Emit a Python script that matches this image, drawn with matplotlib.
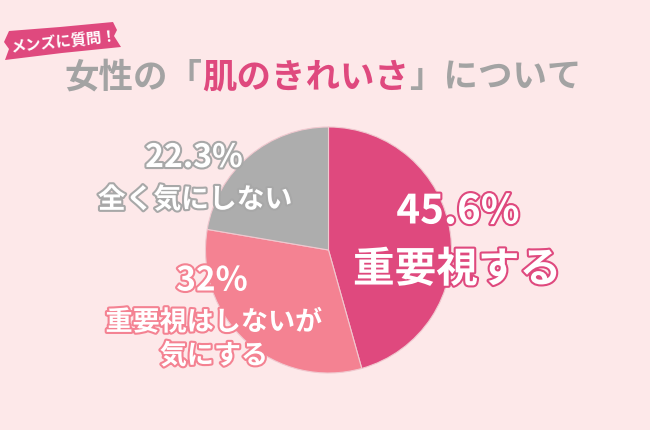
import matplotlib.pyplot as plt
import matplotlib.patheffects as pe
from matplotlib.patches import Polygon

plt.rcParams['font.family'] = ['Noto Sans CJK JP', 'DejaVu Sans']

# data
labels = ['重要視する', '重要視はしないが\n気にする', '全く気にしない']
values = [45.6, 32, 22.3]
pct_text = ['45.6%', '32%', '22.3%']
colors = ['#DF497E', '#F48292', '#ADADAD']

bg = '#FDE8E9'
W, H = 650, 430

fig = plt.figure(figsize=(6.5, 4.3), dpi=100, facecolor=bg)
ax = fig.add_axes([0, 0, 1, 1])
ax.set_facecolor(bg)

# pie (pixel coords, y flipped)
ax.pie(values, colors=colors, startangle=90, counterclock=False,
       center=(328.5, H - 250), radius=123,
       wedgeprops=dict(linewidth=0.8, edgecolor='#f0c8cf'))
ax.set_xlim(0, W)
ax.set_ylim(0, H)
ax.set_aspect('equal')
ax.axis('off')

# banner
ribbon = Polygon([(9, H - 31), (60, H - 27), (113, H - 22), (117, H - 30),
                  (114, H - 36), (121, H - 47), (62, H - 53), (5, H - 60),
                  (9, H - 49), (4, H - 42)],
                 closed=True, facecolor='#DF497E', edgecolor='none')
ax.add_patch(ribbon)
ax.text(64, H - 42, 'メンズに質問！', color='white', fontsize=11,
        fontweight='bold', ha='center', va='center', rotation=6)

# title
parts = [('女性の「', '#A3A3A3'), ('肌のきれいさ', '#DF497E'), ('」について', '#A3A3A3')]
x = 64
for txt, c in parts:
    t = ax.text(x, H - 77, txt, color=c, fontsize=24.8, fontweight='bold',
                ha='left', va='center')
    fig.canvas.draw()
    bb = t.get_window_extent()
    x = ax.transData.inverted().transform((bb.x1, 0))[0]

def outlined(xp, yp, s, size, edge):
    ax.text(xp, H - yp, s, color='white', fontsize=size, fontweight='bold',
            ha='center', va='center', linespacing=1.25,
            path_effects=[pe.withStroke(linewidth=3, foreground=edge)])

# labels
outlined(458, 212, pct_text[0], 29, colors[0])
outlined(457, 270, labels[0], 30, colors[0])
outlined(212, 281, pct_text[1], 24, colors[1])
outlined(214, 339, labels[1], 19.5, colors[1])
outlined(194, 158, pct_text[2], 23, '#A8A8A8')
outlined(195, 200, labels[2], 20, '#A8A8A8')

fig.savefig('out.png', dpi=100, facecolor=bg)
